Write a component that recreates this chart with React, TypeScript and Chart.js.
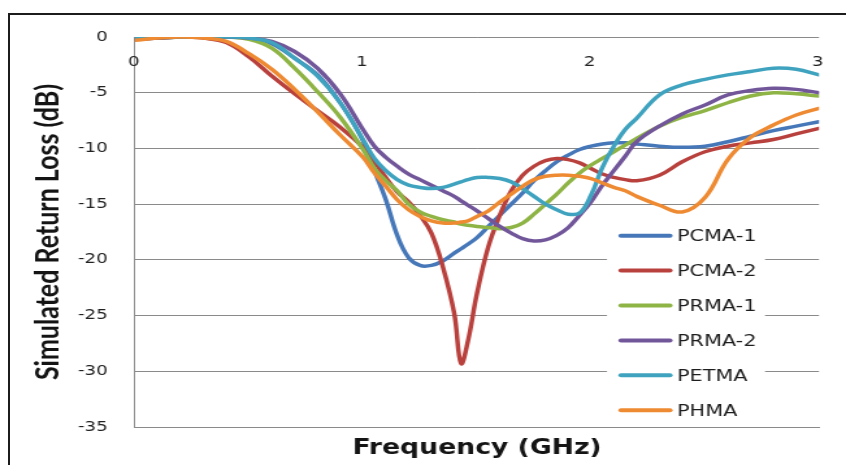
import React, { useEffect, useRef } from "react";
import { Chart, registerables } from "chart.js";

Chart.register(...registerables);

// ---------- data ----------
const freq = [
  0, 0.1, 0.2, 0.3, 0.4, 0.5, 0.6, 0.7, 0.8, 0.9, 1.0,
  1.05, 1.1, 1.15, 1.2, 1.25, 1.3, 1.35, 1.4,
  1.43, 1.46,
  1.5, 1.55, 1.6, 1.65, 1.7, 1.75, 1.8, 1.85, 1.9, 1.95, 2.0, 2.05, 2.1, 2.15, 2.2,
  2.3, 2.4, 2.5, 2.6, 2.7, 2.8, 2.9, 3.0,
];

const seriesNames = ["PCMA-1", "PCMA-2", "PRMA-1", "PRMA-2", "PETMA", "PHMA"];

const pcma1 = [
  -0.2, -0.1, 0, 0, 0, -0.1, -0.6, -1.9, -3.4, -5.9, -9.3,
  -12.0, -14.6, -17.8, -19.8, -20.5, -20.5, -20.1, -19.4,
  -19.0, -18.6,
  -18.0, -17.0, -16.0, -15.0, -14.0, -12.9, -12.0, -11.2, -10.6, -10.1, -9.8, -9.6, -9.5, -9.5, -9.6,
  -9.8, -9.9, -9.8, -9.4, -8.9, -8.4, -8.0, -7.6,
];
const pcma2 = [
  -0.2, -0.1, 0, -0.1, -0.5, -1.8, -3.5, -5.1, -6.6, -8.1, -9.9,
  -11.2, -12.6, -13.9, -14.8, -16.0, -17.6, -20.6, -24.8,
  -29.3, -27.3,
  -23.0, -18.8, -16.0, -13.8, -12.4, -11.6, -11.1, -10.9, -11.0, -11.3, -11.8, -12.3, -12.6, -12.8, -12.9,
  -12.4, -11.2, -10.3, -9.8, -9.5, -9.2, -8.7, -8.2,
];
const prma1 = [
  -0.1, -0.1, 0, 0, 0, -0.2, -1.0, -2.8, -4.9, -7.2, -10.1,
  -11.8, -12.9, -13.8, -15.0, -15.7, -16.1, -16.4, -16.6,
  -16.8, -16.9,
  -17.0, -17.1, -17.2, -17.1, -16.7, -15.9, -15.0, -14.1, -13.1, -12.2, -11.5, -10.9, -10.3, -9.7, -9.1,
  -8.0, -7.2, -6.6, -5.9, -5.3, -5.0, -5.1, -5.3,
];
const prma2 = [
  -0.1, -0.1, 0, 0, 0, -0.1, -0.4, -1.3, -2.8, -5.1, -8.3,
  -9.8, -10.8, -11.6, -12.3, -12.8, -13.3, -13.8, -14.3,
  -14.7, -15.1,
  -15.6, -16.3, -17.0, -17.6, -18.1, -18.3, -18.2, -17.8, -17.1, -16.0, -14.8, -13.3, -12.0, -10.7, -9.4,
  -8.0, -6.9, -6.1, -5.2, -4.8, -4.6, -4.7, -5.0,
];
const petma = [
  -0.1, 0, 0, 0, 0, -0.1, -0.5, -1.9, -3.5, -5.9, -9.2,
  -10.9, -12.0, -12.8, -13.3, -13.5, -13.6, -13.5, -13.2,
  -13.0, -12.8,
  -12.6, -12.6, -12.7, -13.0, -13.6, -14.3, -15.0, -15.5, -15.9, -15.8, -14.2, -11.7, -9.8, -8.3, -7.3,
  -5.2, -4.3, -3.8, -3.4, -3.1, -2.8, -2.9, -3.4,
];
const phma = [
  -0.3, -0.1, 0, -0.1, -0.4, -1.5, -2.9, -4.7, -6.7, -8.8, -10.8,
  -12.2, -13.4, -14.6, -15.5, -16.1, -16.5, -16.7, -16.7,
  -16.6, -16.5,
  -16.1, -15.6, -14.8, -14.1, -13.4, -12.8, -12.5, -12.4, -12.4, -12.5, -12.7, -13.1, -13.5, -13.8, -14.3,
  -15.1, -15.7, -14.4, -11.0, -9.0, -7.9, -7.0, -6.4,
];

const seriesValues = [pcma1, pcma2, prma1, prma2, petma, phma];
const seriesColors = ["#4677b8", "#b9413d", "#8fb446", "#72569a", "#3fa3bf", "#ee8a32"];

const xTickValues = [0, 1, 2, 3];
const yMin = -35;
const yMax = 0;
const yStep = 5;

// ---------- geometry (canvas is drawn narrow and stretched horizontally) ----------
const PAGE_W = 846;
const PAGE_H = 465;
const CANVAS_W = 651;
const SX = PAGE_W / CANVAS_W;
const px = (pageX: number) => pageX / SX;

const overlayPlugin = {
  id: "overlay",
  beforeDatasetsDraw(chart: any) {
    const { ctx, scales } = chart;
    const x = scales.x;
    const y = scales.y;
    ctx.save();
    ctx.font = '14px "DejaVu Sans"';
    ctx.fillStyle = "#222";
    ctx.textAlign = "center";
    ctx.textBaseline = "middle";
    xTickValues.forEach((v) => {
      ctx.fillText(String(v), x.getPixelForValue(v) - 1, y.getPixelForValue(0) + 25);
    });
    ctx.restore();
  },
  afterDatasetsDraw(chart: any) {
    const { ctx } = chart;
    ctx.save();
    ctx.fillStyle = "#ffffff";
    ctx.fillRect(px(607), 216, px(765) - px(607), 208);
    ctx.font = '16px "DejaVu Sans"';
    ctx.textAlign = "left";
    ctx.textBaseline = "middle";
    chart.data.datasets.forEach((ds: any, i: number) => {
      const ly = 235.7 + i * 34.9;
      ctx.strokeStyle = ds.borderColor;
      ctx.lineWidth = 4;
      ctx.lineCap = "round";
      ctx.beginPath();
      ctx.moveTo(px(621), ly);
      ctx.lineTo(px(670), ly);
      ctx.stroke();
      ctx.fillStyle = "#1e1e1e";
      ctx.fillText(ds.label, px(677), ly + 1.5);
    });
    ctx.restore();
  },
};

export default function App() {
  const canvasRef = useRef<HTMLCanvasElement | null>(null);

  useEffect(() => {
    if (!canvasRef.current) return;
    const datasets = seriesNames.map((name, i) => ({
      label: name,
      data: freq.map((f, j) => ({ x: f, y: seriesValues[i][j] })),
      borderColor: seriesColors[i],
      backgroundColor: seriesColors[i],
      borderWidth: 3.5,
      pointRadius: 0,
      pointHoverRadius: 0,
      fill: false,
      tension: 0.4,
      borderJoinStyle: "round" as const,
      borderCapStyle: "round" as const,
      order: seriesNames.length - 1 - i,
    }));

    const chart = new Chart(canvasRef.current, {
      type: "line",
      data: { datasets },
      plugins: [overlayPlugin],
      options: {
        responsive: false,
        animation: false,
        devicePixelRatio: 1,
        events: [],
        layout: { padding: { left: 0, top: 37, right: CANVAS_W - px(819), bottom: 0 } },
        plugins: {
          legend: { display: false },
          tooltip: { enabled: false },
          title: { display: false },
        },
        scales: {
          x: {
            type: "linear",
            min: 0,
            max: 3,
            grid: { display: false, drawTicks: false },
            border: { display: true, color: "#8a8a8a", width: 1 },
            ticks: { display: false },
            title: {
              display: true,
              text: "Frequency (GHz)",
              color: "#141414",
              font: { family: "DejaVu Sans", size: 20.5, weight: "bold" },
              padding: { top: 0, bottom: 4 },
            },
            afterFit(scale: any) {
              scale.height = 38;
            },
          },
          y: {
            type: "linear",
            min: yMin,
            max: yMax,
            grid: { color: "#8a8a8a", lineWidth: 1, drawTicks: false },
            border: { display: true, color: "#8a8a8a", width: 1 },
            ticks: {
              stepSize: yStep,
              color: "#222",
              padding: 21,
              font: { family: "DejaVu Sans", size: 14 },
            },
            title: {
              display: true,
              text: "Simulated Return Loss (dB)",
              color: "#141414",
              font: { family: "Lato", size: 25, weight: "bold" },
              padding: { top: 22.3, bottom: 0 },
            },
            afterFit(scale: any) {
              scale.width = px(135);
            },
          },
        },
      },
    });
    return () => chart.destroy();
  }, []);

  return (
    <div
      style={{
        position: "fixed",
        left: 0,
        top: 0,
        width: PAGE_W,
        height: PAGE_H,
        background: "#fff",
        overflow: "hidden",
      }}
    >
      <canvas
        ref={canvasRef}
        width={CANVAS_W}
        height={PAGE_H}
        style={{ width: PAGE_W + "px", height: PAGE_H + "px", display: "block" }}
      />
      <div
        style={{
          position: "absolute",
          left: 8,
          top: 13,
          width: PAGE_W,
          height: PAGE_H,
          borderLeft: "2px solid #1c1c1c",
          borderTop: "2px solid #1c1c1c",
          pointerEvents: "none",
        }}
      />
    </div>
  );
}
